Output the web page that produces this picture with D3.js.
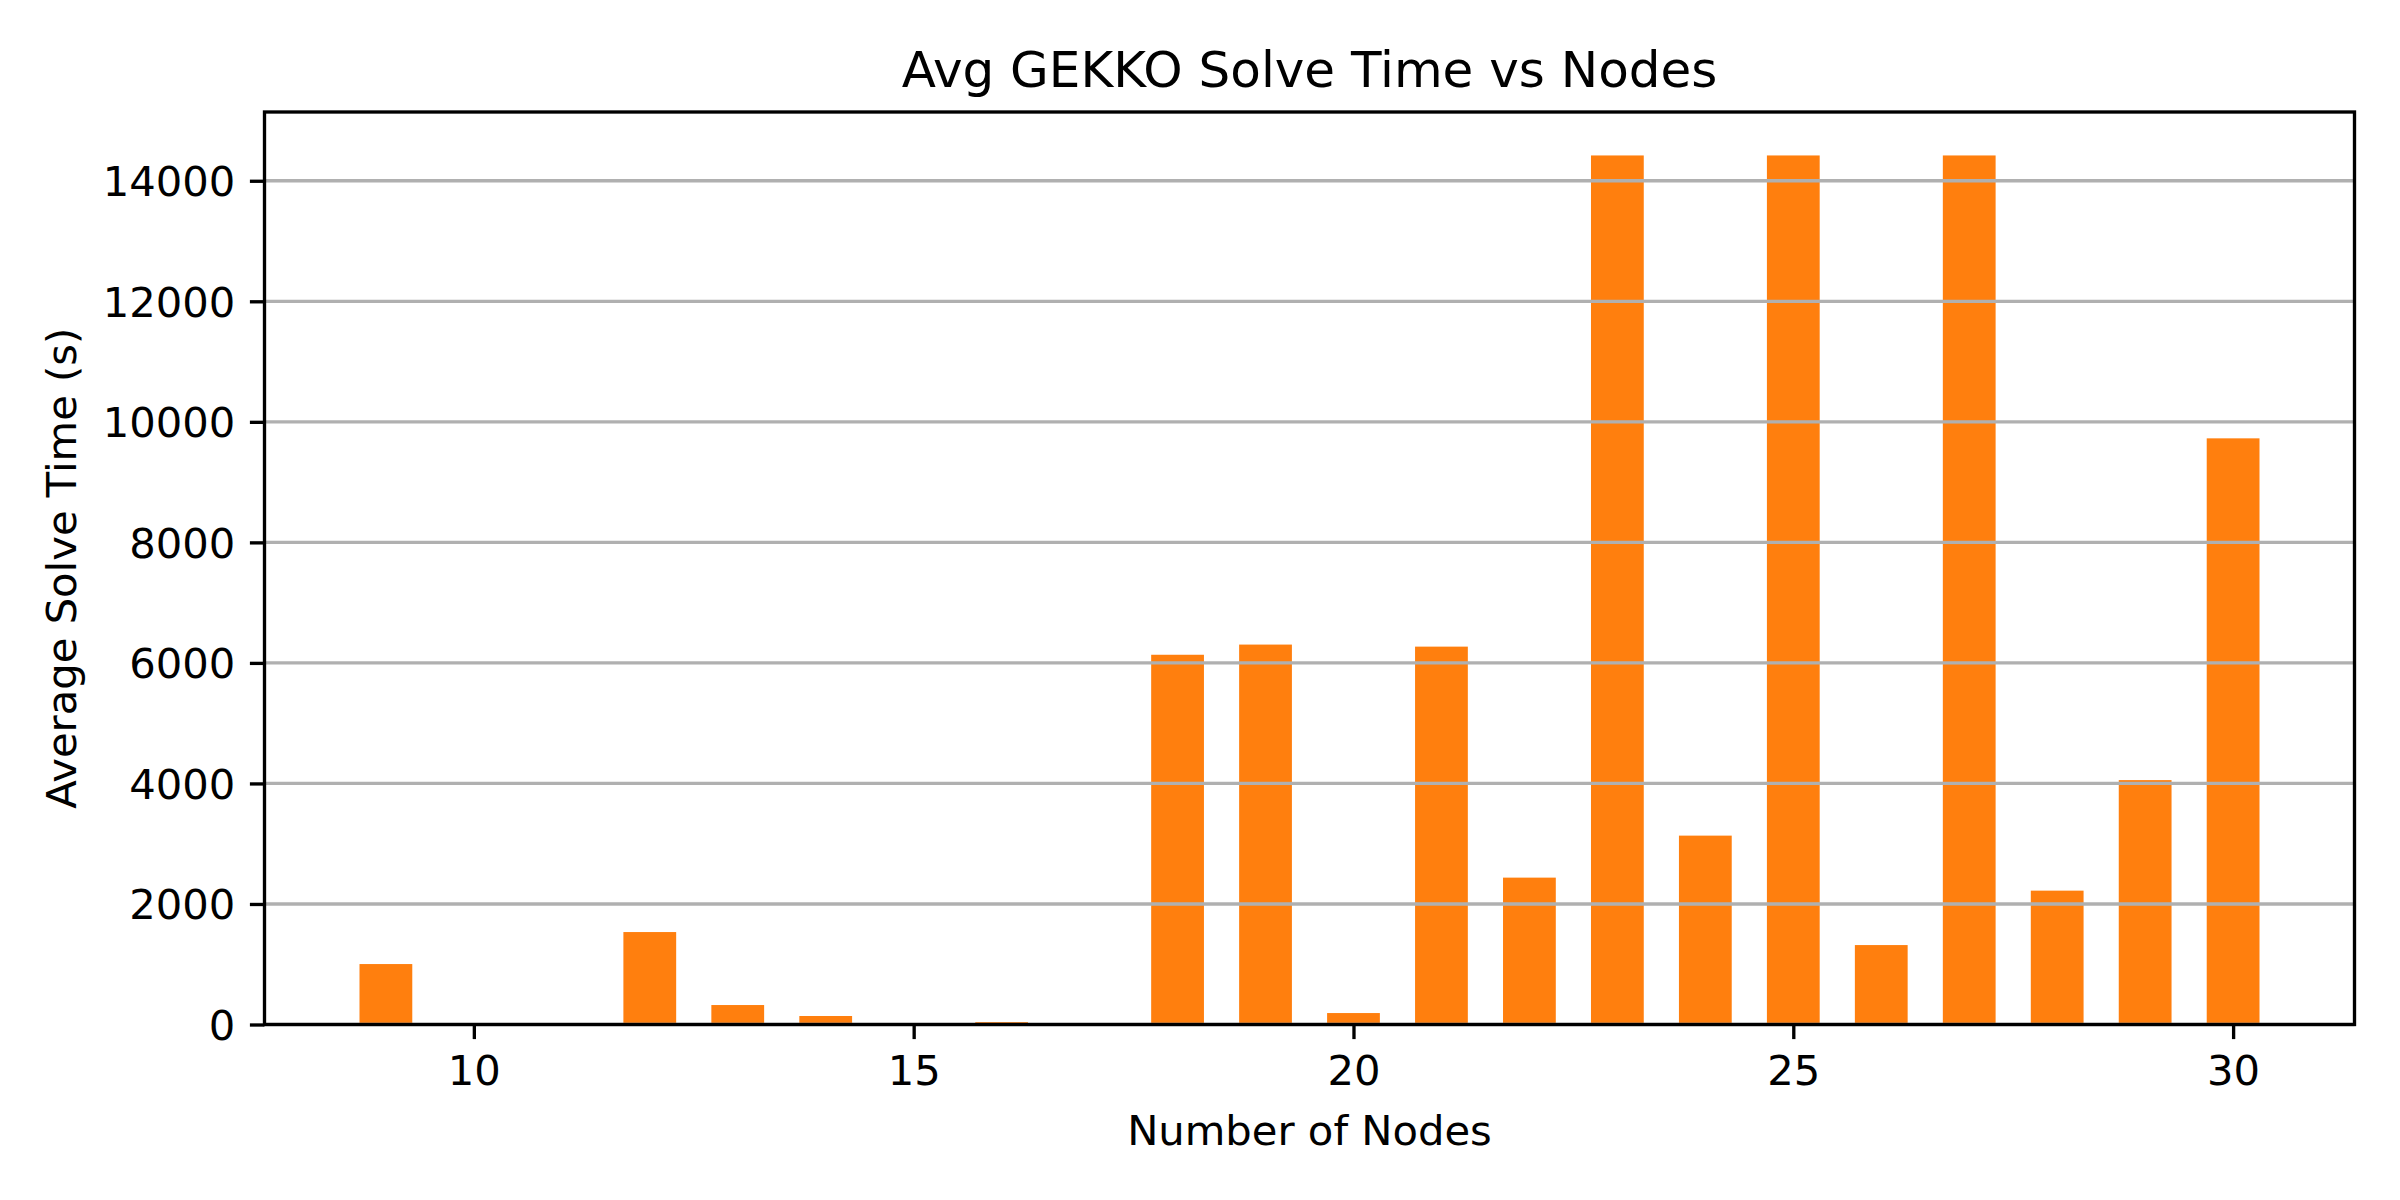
<!DOCTYPE html>
<html>
<head>
<meta charset="utf-8">
<script src="https://cdn.jsdelivr.net/npm/d3@7"></script>
<style>
  html, body { margin: 0; padding: 0; background: #ffffff; }
  svg { display: block; }
  text { font-family: "DejaVu Sans", sans-serif; fill: #000; }
</style>
</head>
<body>
<script>
// ---- data ----
const nodes = [9, 10, 11, 12, 13, 14, 15, 16, 17, 18, 19, 20, 21, 22, 23, 24, 25, 26, 27, 28, 29, 30];
const solveTimes = [1003, 0, 0, 1534, 323, 141, 0, 41, 0, 6135, 6304, 190, 6270, 2437, 14420, 3134, 14420, 1318, 14420, 2221, 4055, 9726];
const yTicks = [0, 2000, 4000, 6000, 8000, 10000, 12000, 14000];
const xTicks = [10, 15, 20, 25, 30];
const titleText = "Avg GEKKO Solve Time vs Nodes";
const xLabel = "Number of Nodes";
const yLabel = "Average Solve Time (s)";

// ---- layout ----
const W = 2400, H = 1200;
const mLeft = 264.5, mRight = 2354.5, mTop = 112, mBottom = 1024.5;
const barWidth = 0.6;
const lw = 3.33;          // 0.8pt at 300dpi
const tickLen = 14.6;     // 3.5pt
const tickPad = 14.6;

const svg = d3.select("body").append("svg").attr("width", W).attr("height", H);

const xMin = d3.min(nodes) - barWidth / 2, xMax = d3.max(nodes) + barWidth / 2;
const xm = (xMax - xMin) * 0.05;
const x = d3.scaleLinear().domain([xMin - xm, xMax + xm]).range([mLeft, mRight]);
const y = d3.scaleLinear().domain([0, d3.max(solveTimes) * 1.05]).range([mBottom, mTop]);

const data = nodes.map((n, i) => ({ n, v: solveTimes[i] }));

// bars
svg.append("g").selectAll("rect").data(data).join("rect")
  .attr("x", d => x(d.n - barWidth / 2))
  .attr("width", d => x(d.n + barWidth / 2) - x(d.n - barWidth / 2))
  .attr("y", d => y(d.v))
  .attr("height", d => y(0) - y(d.v))
  .attr("fill", "#ff7f0e");

// grid (above bars, like matplotlib)
svg.append("g").selectAll("line").data(yTicks).join("line")
  .attr("x1", mLeft).attr("x2", mRight)
  .attr("y1", d => y(d)).attr("y2", d => y(d))
  .attr("stroke", "#b0b0b0").attr("stroke-width", lw);

// y axis
const yAxis = d3.axisLeft(y).tickValues(yTicks).tickSize(tickLen).tickPadding(tickPad).tickFormat(d3.format("d"));
const gy = svg.append("g").attr("transform", `translate(${mLeft},0)`).call(yAxis);
gy.select(".domain").remove();
gy.selectAll(".tick line").attr("stroke", "#000").attr("stroke-width", lw);
gy.selectAll(".tick text").attr("font-size", 41.7).attr("font-family", "DejaVu Sans").attr("dy", "0.36em");

// x axis
const xAxis = d3.axisBottom(x).tickValues(xTicks).tickSize(tickLen).tickPadding(tickPad).tickFormat(d3.format("d"));
const gx = svg.append("g").attr("transform", `translate(0,${mBottom})`).call(xAxis);
gx.select(".domain").remove();
gx.selectAll(".tick line").attr("stroke", "#000").attr("stroke-width", lw);
gx.selectAll(".tick text").attr("font-size", 41.7).attr("font-family", "DejaVu Sans").attr("dy", "0.76em");

// spines
svg.append("rect")
  .attr("x", mLeft).attr("y", mTop)
  .attr("width", mRight - mLeft).attr("height", mBottom - mTop)
  .attr("fill", "none").attr("stroke", "#000").attr("stroke-width", lw);

// title
svg.append("text")
  .attr("x", (mLeft + mRight) / 2).attr("y", 87)
  .attr("text-anchor", "middle").attr("font-size", 50)
  .text(titleText);

// x label
svg.append("text")
  .attr("x", (mLeft + mRight) / 2).attr("y", 1145)
  .attr("text-anchor", "middle").attr("font-size", 41.7)
  .text(xLabel);

// y label
svg.append("text")
  .attr("transform", `translate(76,${(mTop + mBottom) / 2}) rotate(-90)`)
  .attr("text-anchor", "middle").attr("font-size", 41.7)
  .text(yLabel);
</script>
</body>
</html>
